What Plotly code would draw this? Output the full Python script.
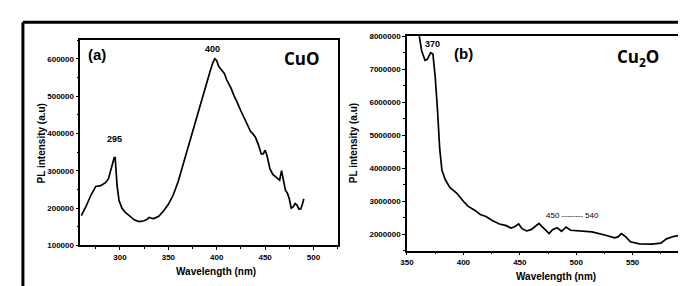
import plotly.graph_objects as go

# ---- Data ----
cuo_wavelength = [260, 265, 270, 273, 275, 280, 285, 288, 290, 292, 294, 295, 296, 297, 299,
                  302, 305, 310, 315, 320, 325, 328, 330, 332, 335, 340, 345, 350, 355, 360,
                  365, 370, 375, 380, 385, 390, 393, 396, 398, 400, 402, 405, 408, 410, 415,
                  418, 420, 425, 430, 435, 437, 440, 443, 446, 448, 450, 452, 455, 458, 462,
                  465, 467, 469, 471, 473, 475, 477, 479, 481, 483, 485, 487, 489, 490]
cuo_intensity = [180000, 205000, 235000, 250000, 258000, 260000, 268000, 278000, 295000, 315000,
                 335000, 335000, 300000, 260000, 220000, 200000, 190000, 178000, 168000, 164000,
                 166000, 170000, 175000, 173000, 172000, 178000, 192000, 210000, 235000, 270000,
                 315000, 360000, 410000, 455000, 500000, 540000, 565000, 590000, 600000, 595000,
                 580000, 570000, 560000, 545000, 520000, 500000, 490000, 460000, 430000, 405000,
                 400000, 390000, 370000, 345000, 345000, 355000, 340000, 305000, 290000, 280000,
                 275000, 300000, 270000, 248000, 240000, 225000, 200000, 203000, 212000, 208000,
                 197000, 198000, 215000, 225000]

cu2o_wavelength = [355, 360, 363, 366, 368, 371, 373, 375, 377, 379, 381, 384, 388, 394, 400,
                   404, 410, 415, 420, 426, 432, 438, 442, 445, 449, 452, 456, 460, 463, 467,
                   470, 476, 479, 483, 487, 491, 495, 503, 514, 526, 534, 537, 540, 544, 548,
                   556, 567, 575, 580, 586, 592, 597, 600]
cu2o_intensity = [9000000, 8200000, 7560000, 7270000, 7300000, 7500000, 7460000, 6780000,
                  5800000, 4600000, 3940000, 3650000, 3420000, 3250000, 3000000, 2850000,
                  2730000, 2600000, 2540000, 2410000, 2310000, 2260000, 2190000, 2220000,
                  2310000, 2170000, 2100000, 2140000, 2220000, 2330000, 2220000, 2020000,
                  2140000, 2200000, 2090000, 2220000, 2120000, 2090000, 2070000, 1970000,
                  1890000, 1920000, 2020000, 1920000, 1770000, 1710000, 1700000, 1730000,
                  1860000, 1930000, 1970000, 2040000, 2120000]

left_yticks = [100000, 200000, 300000, 400000, 500000, 600000]
right_yticks = [2000000, 3000000, 4000000, 5000000, 6000000, 7000000, 8000000]
left_xticks = [300, 350, 400, 450, 500]
right_xticks = [350, 400, 450, 500, 550, 600]

W, H = 686, 286
FONT = "Liberation Sans"


def fx(px):
    return px / W


def fy(py):
    return 1 - py / H


fig = go.Figure()
fig.add_trace(go.Scatter(x=cuo_wavelength, y=cuo_intensity, mode="lines",
                         line=dict(color="black", width=1.7), xaxis="x", yaxis="y",
                         showlegend=False))
fig.add_trace(go.Scatter(x=cu2o_wavelength, y=cu2o_intensity, mode="lines",
                         line=dict(color="black", width=1.7), xaxis="x2", yaxis="y2",
                         showlegend=False))

axis_common = dict(showline=True, linecolor="black", linewidth=1.5, mirror=True,
                   ticks="outside", ticklen=3, tickwidth=1.2, tickcolor="black",
                   showgrid=False, zeroline=False,
                   tickfont=dict(family=FONT, size=8, color="black", weight="bold"))

fig.update_layout(
    width=W, height=H, autosize=False,
    margin=dict(l=0, r=0, t=0, b=0),
    paper_bgcolor="white", plot_bgcolor="white",
    xaxis=dict(domain=[fx(66), fx(326)], range=[259, 525], anchor="y",
               tickvals=left_xticks,
               minor=dict(dtick=25, tick0=0, ticklen=2, ticks="outside", tickcolor="black"),
               **axis_common),
    yaxis=dict(domain=[fy(241), fy(29)], range=[100000, 650000], anchor="x",
               tickvals=left_yticks, tickformat="d",
               minor=dict(dtick=50000, tick0=0, ticklen=2, ticks="outside", tickcolor="black"),
               **axis_common),
    xaxis2=dict(domain=[fx(396), fx(681)], range=[350, 600], anchor="y2",
                tickvals=right_xticks,
                minor=dict(dtick=25, tick0=0, ticklen=2, ticks="outside", tickcolor="black"),
                **axis_common),
    yaxis2=dict(domain=[fy(246.5), fy(25)], range=[1500000, 8000000], anchor="x2",
                tickvals=right_yticks, tickformat="d",
                minor=dict(dtick=500000, tick0=0, ticklen=2, ticks="outside", tickcolor="black"),
                **axis_common),
)


def paper_text(text, px, py, size, bold=True, angle=0, family=FONT):
    fig.add_annotation(text=text, x=fx(px), y=fy(py), xref="paper", yref="paper",
                       xanchor="center", yanchor="middle", showarrow=False, textangle=angle,
                       font=dict(family=family, size=size, color="black",
                                 weight="bold" if bold else "normal"))


def data_text(text, x, y, xref, yref, size, bold=True, family=FONT):
    fig.add_annotation(text=text, x=x, y=y, xref=xref, yref=yref, xanchor="center",
                       yanchor="middle", showarrow=False,
                       font=dict(family=family, size=size, color="black",
                                 weight="bold" if bold else "normal"))


# axis titles
paper_text("PL intensity (a.u)", 27, 136, 10, angle=-90)
paper_text("PL intensity (a.u)", 342, 136, 10, angle=-90)
paper_text("Wavelength (nm)", 203, 267.5, 10)
paper_text("Wavelength (nm)", 547, 273, 10)

# in-plot labels
data_text("(a)", 276.6, 612000, "x", "y", 15)
data_text("CuO", 487.8, 602000, "x", "y", 17, family="Open Sans")
data_text("400", 395.4, 626000, "x", "y", 9)
data_text("295", 294, 385000, "x", "y", 9)
data_text("370", 372.8, 7770000, "x2", "y2", 9)
data_text("(b)", 400, 7470000, "x2", "y2", 15)
data_text("Cu<sub>2</sub>O", 555, 7350000, "x2", "y2", 17, family="Open Sans")
data_text("450 -------- 540", 496.5, 2570000, "x2", "y2", 8, bold=False)

# outer partial frame (top and left)
fig.add_shape(type="line", xref="paper", yref="paper", x0=fx(8), x1=1, y0=fy(10.5),
              y1=fy(10.5), line=dict(color="black", width=3))
fig.add_shape(type="line", xref="paper", yref="paper", x0=fx(8), x1=fx(8), y0=0,
              y1=fy(10.5), line=dict(color="black", width=3))

fig.write_html("out.html")
